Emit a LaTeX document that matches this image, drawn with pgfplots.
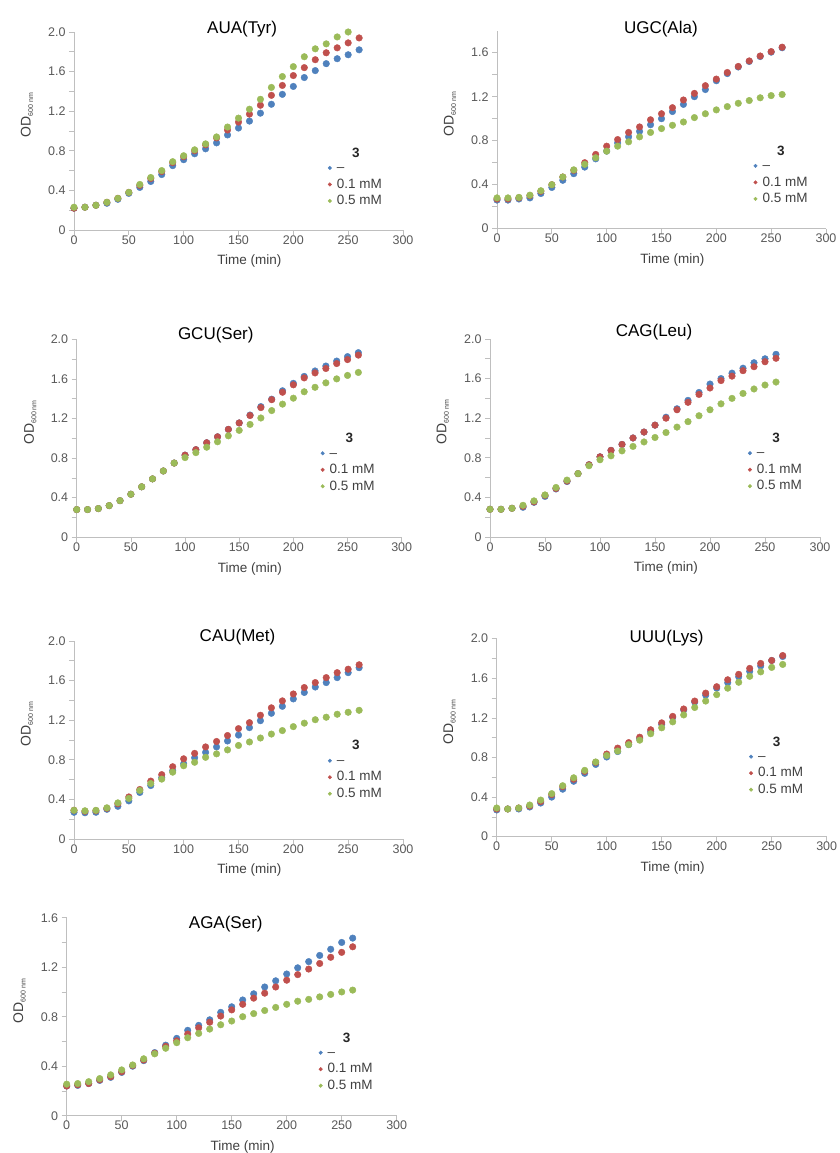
\documentclass[border=0pt]{standalone}
\usepackage{fontspec}
\setmainfont{Liberation Sans}
\usepackage{pgfplots}
\usepackage{pgfplotstable}
\pgfplotsset{compat=1.18}

\definecolor{xblue}{HTML}{4F81BD}
\definecolor{xred}{HTML}{C0504D}
\definecolor{xgreen}{HTML}{9BBB59}
\definecolor{axgray}{HTML}{BFBFBF}
\definecolor{tkgray}{HTML}{595959}
\definecolor{lbgray}{HTML}{404040}

% growth curves, OD600 every 10 min; columns: none / 0.1 mM / 0.5 mM of 3
\pgfplotstableread{
t b r g
0 0.22 0.22 0.23
10 0.23 0.23 0.23
20 0.25 0.25 0.25
30 0.27 0.28 0.28
40 0.31 0.32 0.32
50 0.37 0.38 0.38
60 0.43 0.45 0.46
70 0.49 0.52 0.53
80 0.56 0.59 0.60
90 0.65 0.68 0.69
100 0.71 0.74 0.75
110 0.77 0.80 0.81
120 0.82 0.86 0.87
130 0.88 0.93 0.94
140 0.96 1.01 1.04
150 1.03 1.09 1.13
160 1.10 1.17 1.22
170 1.18 1.26 1.32
180 1.27 1.36 1.44
190 1.37 1.46 1.55
200 1.45 1.56 1.65
210 1.54 1.64 1.75
220 1.61 1.72 1.83
230 1.68 1.79 1.88
240 1.73 1.84 1.95
250 1.77 1.89 2.00
260 1.82 1.94 nan
}\tabAUA

\pgfplotstableread{
t b r g
0 0.26 0.27 0.28
10 0.26 0.27 0.28
20 0.27 0.28 0.285
30 0.28 0.30 0.305
40 0.32 0.34 0.345
50 0.375 0.40 0.40
60 0.44 0.47 0.47
70 0.50 0.53 0.535
80 0.56 0.60 0.585
90 0.635 0.675 0.645
100 0.705 0.75 0.705
110 0.78 0.81 0.75
120 0.835 0.875 0.79
130 0.885 0.925 0.835
140 0.945 0.99 0.875
150 1.00 1.045 0.91
160 1.065 1.10 0.94
170 1.13 1.17 0.97
180 1.20 1.23 1.01
190 1.265 1.30 1.045
200 1.345 1.36 1.08
210 1.41 1.42 1.11
220 1.47 1.475 1.14
230 1.52 1.525 1.165
240 1.565 1.57 1.19
250 1.605 1.61 1.21
260 1.645 1.65 1.22
}\tabUGC

\pgfplotstableread{
t b r g
0 0.28 0.28 0.28
10 0.28 0.28 0.28
20 0.29 0.29 0.29
30 0.32 0.32 0.32
40 0.37 0.37 0.37
50 0.435 0.435 0.435
60 0.51 0.51 0.51
70 0.59 0.59 0.59
80 0.67 0.67 0.67
90 0.75 0.75 0.75
100 0.83 0.83 0.805
110 0.885 0.885 0.855
120 0.955 0.955 0.91
130 1.015 1.015 0.965
140 1.09 1.09 1.025
150 1.155 1.155 1.08
160 1.235 1.23 1.14
170 1.32 1.31 1.205
180 1.395 1.39 1.28
190 1.48 1.465 1.345
200 1.555 1.54 1.405
210 1.625 1.61 1.47
220 1.68 1.66 1.515
230 1.73 1.705 1.56
240 1.78 1.755 1.60
250 1.825 1.795 1.635
260 1.865 1.84 1.665
}\tabGCU

\pgfplotstableread{
t b r g
0 0.28 0.28 0.28
10 0.28 0.28 0.28
20 0.29 0.29 0.29
30 0.30 0.31 0.32
40 0.35 0.355 0.365
50 0.41 0.42 0.425
60 0.485 0.49 0.50
70 0.56 0.565 0.575
80 0.64 0.64 0.64
90 0.73 0.73 0.72
100 0.81 0.81 0.78
110 0.875 0.875 0.82
120 0.935 0.935 0.87
130 1.00 1.00 0.915
140 1.06 1.06 0.96
150 1.13 1.13 1.005
160 1.21 1.20 1.055
170 1.295 1.285 1.11
180 1.38 1.36 1.165
190 1.46 1.44 1.225
200 1.545 1.505 1.285
210 1.60 1.58 1.345
220 1.655 1.625 1.40
230 1.705 1.68 1.45
240 1.76 1.72 1.495
250 1.80 1.77 1.535
260 1.845 1.805 1.565
}\tabCAG

\pgfplotstableread{
t b r g
0 0.27 0.29 0.29
10 0.265 0.28 0.285
20 0.27 0.285 0.29
30 0.30 0.31 0.315
40 0.33 0.355 0.365
50 0.385 0.425 0.41
60 0.47 0.50 0.49
70 0.54 0.585 0.56
80 0.62 0.65 0.605
90 0.69 0.73 0.675
100 0.76 0.81 0.74
110 0.82 0.865 0.775
120 0.875 0.93 0.825
130 0.93 0.985 0.86
140 0.99 1.045 0.90
150 1.05 1.115 0.945
160 1.125 1.175 0.98
170 1.195 1.25 1.02
180 1.27 1.325 1.06
190 1.34 1.395 1.095
200 1.415 1.465 1.135
210 1.48 1.53 1.17
220 1.535 1.58 1.205
230 1.58 1.63 1.23
240 1.63 1.68 1.26
250 1.68 1.715 1.28
260 1.73 1.76 1.30
}\tabCAU

\pgfplotstableread{
t b r g
0 0.27 0.28 0.29
10 0.28 0.28 0.28
20 0.28 0.29 0.29
30 0.30 0.31 0.32
40 0.34 0.355 0.37
50 0.40 0.425 0.435
60 0.48 0.505 0.515
70 0.56 0.58 0.595
80 0.64 0.66 0.67
90 0.73 0.75 0.755
100 0.805 0.835 0.82
110 0.86 0.895 0.865
120 0.93 0.95 0.93
130 0.99 1.005 0.975
140 1.06 1.08 1.04
150 1.135 1.15 1.10
160 1.205 1.215 1.16
170 1.28 1.29 1.23
180 1.36 1.37 1.305
190 1.43 1.45 1.37
200 1.50 1.515 1.435
210 1.555 1.585 1.50
220 1.615 1.64 1.56
230 1.67 1.70 1.62
240 1.725 1.75 1.665
250 1.78 1.78 1.71
260 1.82 1.83 1.74
}\tabUUU

\pgfplotstableread{
t b r g
0 0.24 0.24 0.255
10 0.245 0.25 0.26
20 0.26 0.26 0.275
30 0.285 0.29 0.30
40 0.31 0.315 0.33
50 0.35 0.355 0.37
60 0.40 0.405 0.41
70 0.445 0.45 0.46
80 0.51 0.505 0.50
90 0.57 0.56 0.545
100 0.625 0.605 0.59
110 0.69 0.66 0.63
120 0.73 0.71 0.665
130 0.775 0.755 0.70
140 0.835 0.805 0.735
150 0.88 0.855 0.765
160 0.935 0.90 0.80
170 0.985 0.95 0.825
180 1.04 0.99 0.85
190 1.09 1.04 0.875
200 1.145 1.095 0.90
210 1.195 1.14 0.925
220 1.245 1.185 0.94
230 1.295 1.23 0.96
240 1.345 1.28 0.98
250 1.40 1.32 1.00
260 1.435 1.365 1.015
}\tabAGA

\pgfplotsset{
  panel/.style={
    scale only axis, width=330pt, height=198pt, anchor=south west,
    xmin=0, xmax=300, ymin=0,
    xtick={0,50,...,300},
    axis x line*=bottom, axis y line*=left,
    axis line style={draw=axgray, line width=0.7pt, -},
    every tick/.style={draw=axgray, line width=0.7pt},
    tick align=outside, major tick length=5pt, minor tick length=5pt,
    minor y tick num=1,
    ticklabel style={font=\fontsize{12.5}{14}\selectfont, text=tkgray},
    xticklabel style={yshift=3pt},
    /pgf/number format/assume math mode=true,
    xlabel={Time (min)},
    xlabel style={at={(axis description cs:0.533,0)}, anchor=base, yshift=-35pt,
      font=\fontsize{13.5}{15}\selectfont, text=lbgray},
    ylabel={OD\raisebox{-2.5pt}{\fontsize{7}{8}\selectfont 600 nm}},
    ylabel style={at={(axis description cs:-0.143,0.58)}, anchor=center,
      font=\fontsize{14}{16}\selectfont, text=lbgray},
    clip=false,
    legend cell align=left,
    legend style={draw=none, fill=none, anchor=north west, inner sep=0pt,
      font=\fontsize{13.5}{15}\selectfont, text=lbgray, row sep=0pt,
      nodes={text height=9.5pt, text depth=2pt, inner ysep=2.5pt, inner xsep=0pt},
      /tikz/every odd column/.append style={column sep=5pt}},
    legend image code/.code={\fill (2.5pt,0pt) circle (1.8pt);},
  },
  y20/.style={ymax=2.0, ytick={0,0.4,...,2.0}, yticklabels={0,0.4,0.8,1.2,1.6,2.0}},
  y18/.style={ymax=1.8, ytick={0,0.4,...,1.6}, yticklabels={0,0.4,0.8,1.2,1.6}},
  y16/.style={ymax=1.6, ytick={0,0.4,...,1.6}, yticklabels={0,0.4,0.8,1.2,1.6}},
}

\newcommand{\threeseries}[1]{%
  \addplot[only marks, mark=*, mark size=3.3pt, color=xblue] table[x=t, y=b] {#1};
  \addlegendentry{--}
  \addplot[only marks, mark=*, mark size=3.3pt, color=xred] table[x=t, y=r] {#1};
  \addlegendentry{0.1 mM}
  \addplot[only marks, mark=*, mark size=3.3pt, color=xgreen] table[x=t, y=g] {#1};
  \addlegendentry{0.5 mM}
}
\newcommand{\paneltitle}[3]{\node[font=\fontsize{17}{19}\selectfont, anchor=base] at (rel axis cs:#1,#2) {#3};}
\newcommand{\legtitle}[2]{\node[font=\bfseries\fontsize{13.5}{15}\selectfont, text=black!85] at (rel axis cs:#1,#2) {3};}

\begin{document}
\begin{tikzpicture}
\useasboundingbox (0,0) rectangle (840pt,1153pt);

% row 1
\begin{axis}[panel, y20, at={(74pt,923pt)}, width=329pt,
    legend style={at={(0.771,0.356)}}]
  \threeseries{\tabAUA}
  \paneltitle{0.511}{0.993}{AUA(Tyr)}
  \legtitle{0.857}{0.389}
\end{axis}

\begin{axis}[panel, y18, at={(497pt,924.3pt)}, width=329pt,
    legend style={at={(0.779,0.360)}}]
  \threeseries{\tabUGC}
  \paneltitle{0.498}{0.988}{UGC(Ala)}
  \legtitle{0.863}{0.392}
\end{axis}

% row 2
\begin{axis}[panel, y20, at={(76.7pt,615.7pt)}, width=325pt,
    legend style={at={(0.750,0.467)}}]
  \threeseries{\tabGCU}
  \paneltitle{0.428}{1.0}{GCU(Ser)}
  \legtitle{0.839}{0.503}
\end{axis}

\begin{axis}[panel, y20, at={(490pt,616pt)},
    legend style={at={(0.781,0.466)}}]
  \threeseries{\tabCAG}
  \paneltitle{0.497}{1.012}{CAG(Leu)}
  \legtitle{0.867}{0.502}
\end{axis}

% row 3
\begin{axis}[panel, y20, at={(74pt,314pt)}, width=329pt,
    legend style={at={(0.771,0.438)}}]
  \threeseries{\tabCAU}
  \paneltitle{0.497}{0.996}{CAU(Met)}
  \legtitle{0.857}{0.475}
\end{axis}

\begin{axis}[panel, y20, at={(496.7pt,316.3pt)},
    legend style={at={(0.764,0.447)}}]
  \threeseries{\tabUUU}
  \paneltitle{0.515}{0.980}{UUU(Lys)}
  \legtitle{0.848}{0.480}
\end{axis}

% row 4
\begin{axis}[panel, y16, at={(66.7pt,37.3pt)},
    legend style={at={(0.763,0.361)}}]
  \threeseries{\tabAGA}
  \paneltitle{0.482}{0.946}{AGA(Ser)}
  \legtitle{0.848}{0.391}
\end{axis}
\end{tikzpicture}
\end{document}
